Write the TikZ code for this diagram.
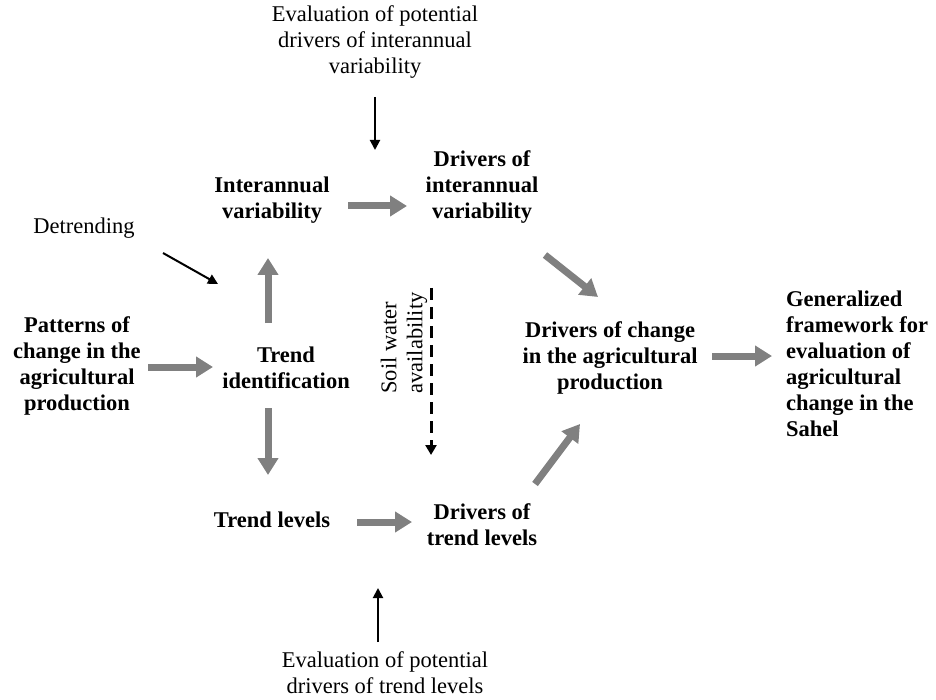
\documentclass[tikz,border=0pt]{standalone}
\usepackage{fontspec}
\setmainfont{Liberation Serif}
\usetikzlibrary{arrows.meta,calc}
\definecolor{arrgray}{RGB}{128,128,128}
\tikzset{
  lbl/.style={font=\fontsize{22.5}{26}\selectfont, align=center, inner sep=0pt},
  blbl/.style={font=\fontsize{22.5}{26}\selectfont\bfseries, align=center, inner sep=0pt},
  garrow/.style={draw=arrgray, line width=7pt, -{Triangle[length=17pt,width=20pt]}},
  karrow/.style={draw=black, line width=2pt, -{Triangle[length=10pt,width=10pt]}},
  darrow/.style={draw=black, line width=3pt, dash pattern=on 12pt off 7pt, -{Triangle[length=10pt,width=11pt]}}
}
\begin{document}
\begin{tikzpicture}[x=1pt,y=-1pt]
\useasboundingbox (0,0) rectangle (936,700);
% text nodes
\node[lbl] (evi) at (375,42) {Evaluation of potential\\drivers of interannual\\variability};
\node[blbl] (iv) at (272,200) {Interannual\\variability};
\node[blbl] (div) at (482,187) {Drivers of\\interannual\\variability};
\node[lbl] (det) at (84,228) {Detrending};
\node[blbl] (pat) at (77,366) {Patterns of\\change in the\\agricultural\\production};
\node[blbl] (ti) at (286,368) {Trend\\identification};
\node[lbl, rotate=90, align=left] (soil) at (404,343) {Soil water\\availability};
\node[blbl] (dch) at (610,358) {Drivers of change\\in the agricultural\\production};
\node[blbl, align=left, anchor=west] (gen) at (786,364) {Generalized\\framework for\\evaluation of\\agricultural\\change in the\\Sahel};
\node[blbl] (tl) at (272,520) {Trend levels};
\node[blbl] (dtl) at (482,525) {Drivers of\\trend levels};
\node[lbl] (evt) at (385,673) {Evaluation of potential\\drivers of trend levels};
% arrow end points
\coordinate (a1s) at (348,206); \coordinate (a1e) at (407,206);
\coordinate (a2s) at (545,255); \coordinate (a2e) at (598,297);
\coordinate (a3s) at (268,323); \coordinate (a3e) at (268,258);
\coordinate (a4s) at (148,367); \coordinate (a4e) at (213,367);
\coordinate (a5s) at (268,408); \coordinate (a5e) at (268,475);
\coordinate (a6s) at (357,522); \coordinate (a6e) at (412,522);
\coordinate (a7s) at (535,484); \coordinate (a7e) at (580,424);
\coordinate (a8s) at (712,356); \coordinate (a8e) at (772,356);
\coordinate (k1s) at (375,97);  \coordinate (k1e) at (375,150);
\coordinate (k2s) at (163,253); \coordinate (k2e) at (218,284);
\coordinate (k3s) at (378,642); \coordinate (k3e) at (378,588);
\coordinate (dss) at (431,288); \coordinate (dse) at (431,455);
% gray arrows
\draw[garrow] (a1s) -- (a1e);
\draw[garrow] (a2s) -- (a2e);
\draw[garrow] (a3s) -- (a3e);
\draw[garrow] (a4s) -- (a4e);
\draw[garrow] (a5s) -- (a5e);
\draw[garrow] (a6s) -- (a6e);
\draw[garrow] (a7s) -- (a7e);
\draw[garrow] (a8s) -- (a8e);
% black arrows
\draw[karrow] (k1s) -- (k1e);
\draw[karrow] (k2s) -- (k2e);
\draw[karrow] (k3s) -- (k3e);
\draw[darrow] (dss) -- (dse);
\end{tikzpicture}
\end{document}
